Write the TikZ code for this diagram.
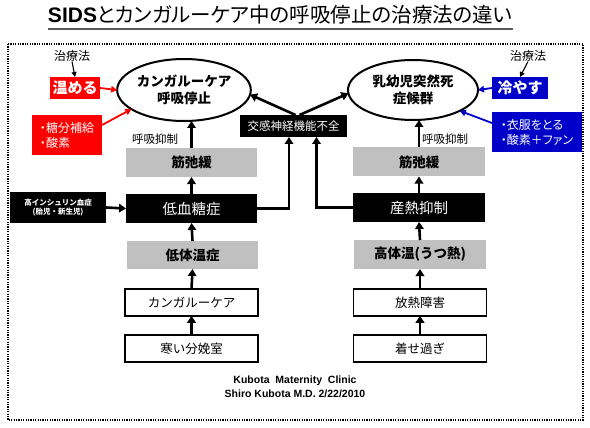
\documentclass[tikz,border=0pt]{standalone}
\usepackage{fontspec}
\setmainfont{Noto Sans CJK JP}
\newfontfamily\jpp{Noto Sans CJK JP}[RawFeature=+palt]
\newfontfamily\lat{Liberation Sans}
\usetikzlibrary{arrows.meta,shapes.geometric,calc}
\definecolor{grayfill}{RGB}{192,192,192}
\definecolor{myred}{RGB}{255,0,0}
\definecolor{myblue}{RGB}{0,0,200}
\definecolor{ulgray}{RGB}{90,90,90}
\newcommand{\fs}[1]{\fontsize{#1}{#1}\selectfont}
\begin{document}
\begin{tikzpicture}[x=1pt,y=-1pt,
  every node/.style={inner sep=0pt,outer sep=0pt},
  graybox/.style={fill=grayfill,minimum width=131pt,minimum height=29pt,font=\bfseries\fs{13.5}},
  blackbox/.style={fill=black,text=white,minimum width=131pt,minimum height=29pt,font=\fs{14.5}},
  whitebox/.style={draw=black,line width=1.6pt,fill=white,minimum width=133pt,minimum height=26.5pt,font=\fs{12.5}},
  ell/.style={ellipse,draw=black,line width=2pt,align=center,font=\bfseries\fontsize{13.5}{17}\selectfont},
  lbl/.style={font=\fs{12}},
  arr/.style={line width=2.6pt,-{Triangle[length=7pt,width=8.5pt]}},
  thinarr/.style={line width=1.1pt,-{Triangle[length=5pt,width=5pt]}},
  redarr/.style={draw=myred,line width=1.8pt,-{Triangle[length=6pt,width=6.5pt]}},
  bluearr/.style={draw=myblue,line width=1.8pt,-{Triangle[length=6pt,width=6.5pt]}},
  frame/.style={line width=1.4pt,dash pattern=on 1.2pt off 1.2pt}
]
\useasboundingbox (0,0) rectangle (590,428);
\fill[white] (0,0) rectangle (590,428);

% title
\node[anchor=base west] (title) at (48,23) {{\lat\bfseries\fs{21}SIDS}{\jpp\fs{20.5}とカンガルーケア中の呼吸停止の治療法の違い}};
\draw[ulgray,line width=2pt] ($(title.base west)+(0,6)$) -- ($(title.base east)+(0,6)$);

% frame
\draw[frame] (8,44) rectangle (583,420);

% ellipses
\node[ell,minimum width=128pt,minimum height=62pt] (L) at (184,90) {カンガルーケア\\呼吸停止};
\node[ell,minimum width=130pt,minimum height=60pt] (R) at (413,90) {乳幼児突然死\\症候群};

% treatment labels
\node[lbl] (t1) at (72,56) {治療法};
\node[lbl] (t2) at (528,56) {治療法};
\node[fill=myred,text=white,font=\bfseries\fs{15},minimum width=50pt,minimum height=22pt] (warm) at (75,88) {温める};
\node[fill=myblue,text=white,font=\bfseries\fs{15},minimum width=56pt,minimum height=22pt] (cool) at (520,88) {冷やす};
\node[fill=myred,text=white,font=\jpp\fontsize{12}{15}\selectfont,minimum width=70pt,minimum height=40pt,align=left] (rbox) at (67,135) {・糖分補給\\・酸素};
\node[fill=myblue,text=white,font=\jpp\fontsize{12}{15}\selectfont,minimum width=90pt,minimum height=40pt,align=left] (bbox) at (537,132) {・衣服をとる\\・酸素＋ファン};

\draw[thinarr] (t1.south) -- (warm.north);
\draw[thinarr] (t2.south) -- (cool.north);
\draw[redarr] (warm.east) -- (L.west);
\draw[redarr] ([yshift=10pt]rbox.east) -- (L.200);
\draw[bluearr] (cool.west) -- (R.east);
\draw[bluearr] ([yshift=9pt]bbox.west) -- (R.336);

% left column
\node[graybox] (kinL) at (191.5,162.5) {筋弛緩};
\node[blackbox] (hypo) at (191.5,208.5) {低血糖症};
\node[graybox,minimum height=28pt] (lowt) at (192.5,255) {低体温症};
\node[whitebox] (kang) at (191.5,302.5) {カンガルーケア};
\node[whitebox] (cold) at (191.5,348.5) {寒い分娩室};
\node[fill=black,text=white,minimum width=96pt,minimum height=31pt,align=center,font=\bfseries\fontsize{7.5}{9}\selectfont] (ins) at (58,207.5) {高インシュリン血症\\(胎児・新生児)};

% right column
\node[graybox,minimum width=132pt] (kinR) at (419,162) {筋弛緩};
\node[blackbox,minimum width=132pt] (heat) at (419,207.5) {産熱抑制};
\node[graybox,minimum width=132pt] (hight) at (420,254.5) {高体温(うつ熱)};
\node[whitebox] (rad) at (420,302.5) {放熱障害};
\node[whitebox] (over) at (420,348.5) {着せ過ぎ};

% sympathetic
\node[fill=black,text=white,minimum width=107pt,minimum height=22pt,font=\fs{11.5}] (sym) at (293.5,126) {交感神経機能不全};

% labels
\node[font=\fs{11.5}] (resL) at (155,139) {呼吸抑制};
\node[font=\fs{11.5}] (resR) at (445,139) {呼吸抑制};

% arrows left
\draw[arr] (cold.north) -- (kang.south);
\draw[arr] (kang.north) -- (lowt.south);
\draw[arr] (lowt.north) -- (hypo.south);
\draw[arr] (hypo.north) -- (kinL.south);
\draw[arr] (kinL.north) -- (kinL.north |- L.south);
\draw[arr] (ins.east) -- (hypo.west);
% arrows right
\draw[arr] (over.north) -- (rad.south);
\draw[arr] (rad.north) -- (hight.south);
\draw[arr] (hight.north) -- (heat.south);
\draw[arr] (heat.north) -- (kinR.south);
\draw[arr] (kinR.north) -- (kinR.north |- R.south);
% to sympathetic
\draw[arr] (hypo.east) -| ([xshift=-4.5pt]sym.south);
\draw[arr] (heat.west) -| ([xshift=23pt]sym.south);
\draw[arr] ([xshift=2pt]sym.north) -- (L.-4);
\draw[arr] ([xshift=6pt]sym.north) -- (R.183);

% footer
\node[font=\lat\bfseries\fs{10.5}] (f1) at (295,381) {Kubota\ \ Maternity\ \ Clinic};
\node[font=\lat\bfseries\fs{10.5}] (f2) at (295,394) {Shiro Kubota M.D. 2/22/2010};
\end{tikzpicture}
\end{document}
